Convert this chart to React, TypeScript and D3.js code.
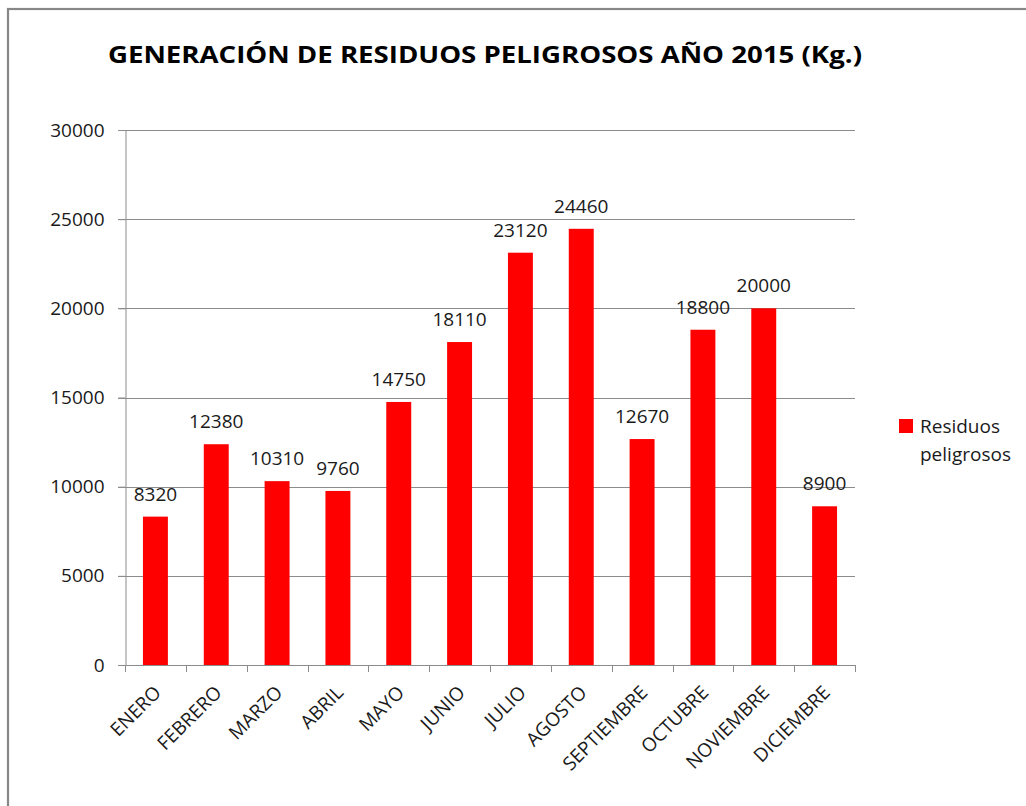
import { useEffect, useRef } from 'react'
import * as d3 from 'd3'

const months = ['ENERO', 'FEBRERO', 'MARZO', 'ABRIL', 'MAYO', 'JUNIO', 'JULIO', 'AGOSTO', 'SEPTIEMBRE', 'OCTUBRE', 'NOVIEMBRE', 'DICIEMBRE']
const residuos = [8320, 12380, 10310, 9760, 14750, 18110, 23120, 24460, 12670, 18800, 20000, 8900]
const yTicks = [0, 5000, 10000, 15000, 20000, 25000, 30000]
const seriesName = ['Residuos', 'peligrosos']
const title = 'GENERACIÓN DE RESIDUOS PELIGROSOS AÑO 2015 (Kg.)'

const W = 1026
const H = 806
const FONT = '"Open Sans", sans-serif'

export default function App() {
  const svgRef = useRef<SVGSVGElement>(null)

  useEffect(() => {
    if (!svgRef.current) return
    const svg = d3.select(svgRef.current)
    svg.selectAll('*').remove()

    const plot = { left: 125, right: 855, top: 130, bottom: 665 }

    // outer chart frame (right/bottom edges fall outside the picture)
    svg.append('rect')
      .attr('x', 8).attr('y', 9)
      .attr('width', W + 20).attr('height', H + 20)
      .attr('fill', 'white')
      .attr('stroke', '#878787').attr('stroke-width', 2.2)

    svg.append('text')
      .attr('x', 108).attr('y', 63)
      .attr('font-family', FONT).attr('font-weight', 700).attr('font-size', 24)
      .attr('fill', '#000')
      .attr('textLength', 754).attr('lengthAdjust', 'spacingAndGlyphs')
      .text(title)

    const x = d3.scaleBand<string>()
      .domain(months)
      .range([plot.left, plot.right])
      .paddingInner(0.59)
      .paddingOuter(0.295)

    const y = d3.scaleLinear()
      .domain([0, 30000])
      .range([plot.bottom, plot.top])

    // gridlines
    svg.append('g')
      .selectAll('line')
      .data(yTicks.filter(t => t > 0))
      .join('line')
      .attr('x1', 118).attr('x2', plot.right)
      .attr('y1', d => Math.round(y(d)) + 0.5).attr('y2', d => Math.round(y(d)) + 0.5)
      .attr('stroke', '#8c8c8c').attr('stroke-width', 1)

    // y axis
    const yAxis = svg.append('g')
      .attr('transform', `translate(${plot.left + 0.5},0)`)
      .call(d3.axisLeft(y).tickValues(yTicks).tickSize(7).tickPadding(14).tickFormat(d => String(d)))
    yAxis.select('.domain').attr('stroke', '#8c8c8c')
    yAxis.selectAll('.tick line').attr('stroke', '#8c8c8c')
    yAxis.selectAll('.tick text')
      .attr('font-family', FONT).attr('font-size', 19).attr('fill', '#1a1a1a')

    // x axis baseline + ticks at category boundaries
    const step = x.step()
    const boundaries = d3.range(months.length + 1).map(i => plot.left + i * step)
    svg.append('line')
      .attr('x1', 118).attr('x2', plot.right)
      .attr('y1', plot.bottom + 0.5).attr('y2', plot.bottom + 0.5)
      .attr('stroke', '#8c8c8c')
    svg.append('g')
      .selectAll('line')
      .data(boundaries)
      .join('line')
      .attr('x1', d => Math.round(d) + 0.5).attr('x2', d => Math.round(d) + 0.5)
      .attr('y1', plot.bottom).attr('y2', plot.bottom + 7)
      .attr('stroke', '#8c8c8c')

    // bars
    svg.append('g')
      .selectAll('rect')
      .data(residuos)
      .join('rect')
      .attr('x', (_, i) => x(months[i])!)
      .attr('y', d => y(d))
      .attr('width', x.bandwidth())
      .attr('height', d => plot.bottom - y(d))
      .attr('fill', '#ff0000')

    // data labels
    svg.append('g')
      .selectAll('text')
      .data(residuos)
      .join('text')
      .attr('x', (_, i) => x(months[i])! + x.bandwidth() / 2)
      .attr('y', d => y(d) - 16)
      .attr('text-anchor', 'middle')
      .attr('font-family', FONT).attr('font-size', 19).attr('fill', '#1a1a1a')
      .text(d => String(d))

    // rotated category labels
    svg.append('g')
      .selectAll('text')
      .data(months)
      .join('text')
      .attr('transform', d => `translate(${x(d)! + x.bandwidth() / 2 - 3},${plot.bottom + 19}) rotate(-45)`)
      .attr('text-anchor', 'end')
      .attr('dy', '0.72em')
      .attr('font-family', FONT).attr('font-size', 19).attr('fill', '#1a1a1a')
      .text(d => d)

    // legend
    const lg = svg.append('g')
    lg.append('rect')
      .attr('x', 899).attr('y', 419).attr('width', 14).attr('height', 14)
      .attr('fill', '#ff0000')
    lg.selectAll('text')
      .data(seriesName)
      .join('text')
      .attr('x', 920)
      .attr('y', (_, i) => 433 + i * 28)
      .attr('font-family', FONT).attr('font-size', 19).attr('fill', '#1a1a1a')
      .text(d => d)
  }, [])

  return (
    <svg
      ref={svgRef}
      width={W}
      height={H}
      style={{ position: 'absolute', left: 0, top: 0, background: 'white' }}
    />
  )
}
